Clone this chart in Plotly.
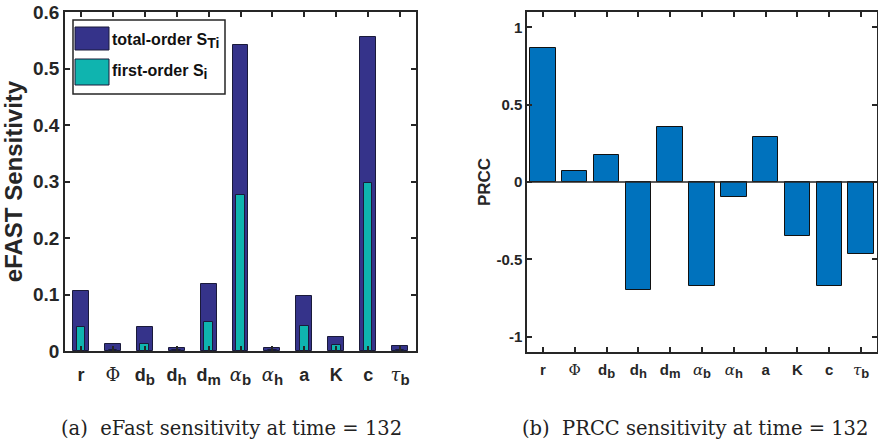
import plotly.graph_objects as go

W, H = 878, 441

def sub(base, s, size):
    return f"{base}<sub><span style='font-size:{size}px'>{s}</span></sub>"

def greek(ch):
    return f"<span style='font-family:DejaVu Serif;font-weight:normal'><i>{ch}</i></span>"

def make_labels(size):
    return ["r", "<span style='font-family:DejaVu Serif;font-weight:normal'>Φ</span>",
            sub("d", "b", size), sub("d", "h", size), sub("d", "m", size),
            sub(greek("α"), "b", size), sub(greek("α"), "h", size), "a", "K", "c",
            sub(greek("τ"), "b", size)]

positions = list(range(1, 12))

total_order = [0.106, 0.012, 0.042, 0.006, 0.119, 0.542, 0.005, 0.097, 0.025, 0.556, 0.008]
first_order = [0.042, 0.002, 0.012, 0.001, 0.051, 0.276, 0.001, 0.044, 0.010, 0.297, 0.002]
prcc = [0.866, 0.071, 0.176, -0.699, 0.359, -0.673, -0.095, 0.288, -0.348, -0.671, -0.465]

NAVY = "#35338A"
TEAL = "#0FB4AF"
BLUE = "#0072BD"
AX = "#262626"
SANS = "Liberation Sans, Arial, sans-serif"
SERIF = "DejaVu Serif, serif"

def px(x):
    return x / W

def py(y):
    return 1 - y / H

fig = go.Figure()
fig.add_trace(go.Bar(x=positions, y=total_order, width=0.5, marker=dict(color=NAVY, line=dict(color="#1a1a3a", width=1)),
                     xaxis="x", yaxis="y", showlegend=False))
fig.add_trace(go.Bar(x=positions, y=first_order, width=0.27, marker=dict(color=TEAL, line=dict(color="#1a1a3a", width=1)),
                     xaxis="x", yaxis="y", showlegend=False))
fig.add_trace(go.Bar(x=positions, y=prcc, width=0.8, marker=dict(color=BLUE, line=dict(color="#111111", width=1)),
                     xaxis="x2", yaxis="y2", showlegend=False))

common = dict(showline=True, linecolor=AX, linewidth=1.5, mirror="ticks", ticks="inside",
              ticklen=5, tickwidth=1.5, tickcolor=AX, showgrid=False, zeroline=False, automargin=False)

fig.update_layout(
    template="none",
    width=W, height=H, margin=dict(l=0, r=0, t=0, b=0, autoexpand=False),
    paper_bgcolor="white", plot_bgcolor="white", barmode="overlay", bargap=0,
    xaxis=dict(domain=[px(65), px(416)], range=[0.5, 11.5], tickvals=positions, ticktext=make_labels(15),
               tickfont=dict(family=SANS, size=18, color=AX, weight="bold"), anchor="y",
               ticklabelstandoff=7, **common),
    yaxis=dict(domain=[py(351), py(12)], range=[0, 0.6], tickvals=[0, 0.1, 0.2, 0.3, 0.4, 0.5, 0.6],
               ticktext=["0", "0.1", "0.2", "0.3", "0.4", "0.5", "0.6"],
               tickfont=dict(family=SANS, size=19, color=AX, weight="bold"), anchor="x",
               title=dict(text="eFAST Sensitivity", font=dict(family=SANS, size=24, color=AX, weight="bold"), standoff=5),
               **common),
    xaxis2=dict(domain=[px(527), px(877)], range=[0.5, 11.5], tickvals=positions, ticktext=make_labels(13),
                tickfont=dict(family=SANS, size=15, color=AX, weight="bold"), anchor="y2",
                ticklabelstandoff=3, **common),
    yaxis2=dict(domain=[py(352), py(12)], range=[-1.1, 1.1], tickvals=[-1, -0.5, 0, 0.5, 1],
                ticktext=["-1", "-0.5", "0", "0.5", "1"],
                tickfont=dict(family=SANS, size=15, color=AX, weight="bold"), anchor="x2",
                title=dict(text="PRCC", font=dict(family=SANS, size=17, color=AX, weight="bold"), standoff=1),
                **common),
)

# zero line of PRCC plot
fig.add_shape(type="line", xref="x2 domain", yref="y2", x0=0, x1=1, y0=0, y1=0,
              line=dict(color=AX, width=1.5))

# custom legend (left panel)
fig.add_shape(type="rect", xref="paper", yref="paper", x0=px(73), x1=px(225), y0=py(94), y1=py(20),
              line=dict(color=AX, width=1.5), fillcolor="white", layer="above")
fig.add_shape(type="rect", xref="paper", yref="paper", x0=px(75), x1=px(109), y0=py(50), y1=py(27),
              line=dict(color="#1a1a3a", width=1), fillcolor=NAVY, layer="above")
fig.add_shape(type="rect", xref="paper", yref="paper", x0=px(75), x1=px(109), y0=py(85), y1=py(59),
              line=dict(color="#1a1a3a", width=1), fillcolor=TEAL, layer="above")
fig.add_annotation(xref="paper", yref="paper", x=px(110), y=py(41), xanchor="left", yanchor="middle",
                   text=sub("total-order S", "Ti", 14), showarrow=False,
                   font=dict(family=SANS, size=16, color="#111111", weight="bold"))
fig.add_annotation(xref="paper", yref="paper", x=px(110), y=py(72), xanchor="left", yanchor="middle",
                   text=sub("first-order S", "i", 14), showarrow=False,
                   font=dict(family=SANS, size=16, color="#111111", weight="bold"))

# captions
fig.add_annotation(xref="paper", yref="paper", x=px(231), y=py(428), xanchor="center", yanchor="middle",
                   text="(a)  eFast sensitivity at time = 132", showarrow=False,
                   font=dict(family=SERIF, size=19.5, color="#222222"))
fig.add_annotation(xref="paper", yref="paper", x=px(695), y=py(428), xanchor="center", yanchor="middle",
                   text="(b)  PRCC sensitivity at time = 132", showarrow=False,
                   font=dict(family=SERIF, size=19.5, color="#222222"))

fig.write_html("out.html")
